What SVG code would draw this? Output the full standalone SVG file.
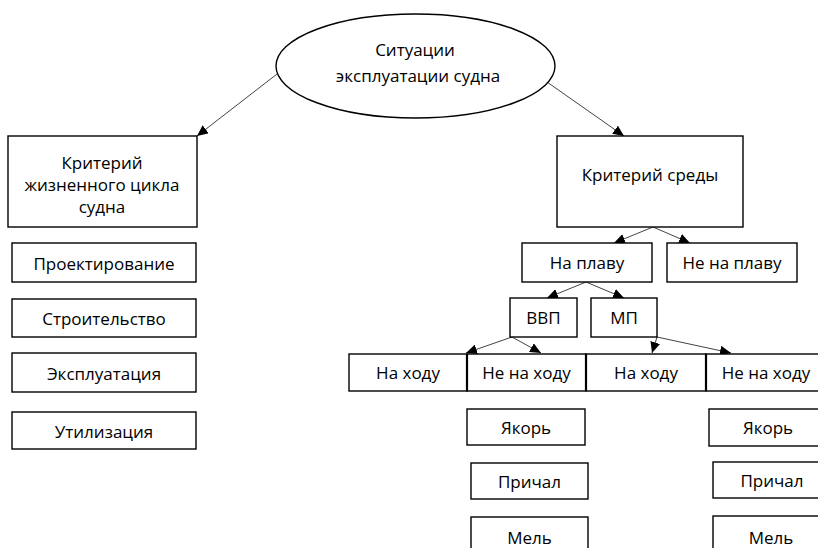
<svg xmlns="http://www.w3.org/2000/svg" width="818" height="548" viewBox="0 0 818 548">
<style>
.b{fill:#fff;stroke:#000;stroke-width:1.4}
.t{font-family:"Open Sans","Noto Sans","Liberation Sans",sans-serif;font-size:17px;fill:#000;text-anchor:middle}
.c{stroke:#444;stroke-width:1;fill:none;marker-end:url(#ah)}
.d{stroke:#000;stroke-width:2.2}
</style>
<defs>
<marker id="ah" markerUnits="userSpaceOnUse" markerWidth="12" markerHeight="10" refX="11" refY="5" orient="auto">
<path d="M0,0 L11,5 L0,10 Z" fill="#000"/>
</marker>
</defs>
<rect width="818" height="548" fill="#fff"/>
<g id="connectors">
<line class="c" x1="277" y1="74" x2="197" y2="136"/>
<line class="c" x1="547" y1="82" x2="624" y2="136"/>
<line class="c" x1="653" y1="227" x2="614" y2="243"/>
<line class="c" x1="653" y1="227" x2="690" y2="243"/>
<line class="c" x1="586" y1="282" x2="547" y2="298"/>
<line class="c" x1="586" y1="282" x2="624" y2="298"/>
<line class="c" x1="512" y1="337" x2="466" y2="353"/>
<line class="c" x1="512" y1="337" x2="541" y2="353"/>
<line class="c" x1="657" y1="337" x2="652" y2="353"/>
<line class="c" x1="657" y1="337" x2="731" y2="353"/>
</g>
<g id="root">
<ellipse class="b" cx="415.5" cy="66" rx="139.5" ry="52"/>
<text class="t" x="415" y="56">Ситуации</text>
<text class="t" x="418" y="82">эксплуатации судна</text>
</g>
<g id="lifecycle">
<rect class="b" x="8" y="136" width="189" height="91"/>
<text class="t" x="102" y="169">Критерий</text>
<text class="t" x="102" y="191">жизненного цикла</text>
<text class="t" x="102" y="213">судна</text>
</g>
<g id="design"><rect class="b" x="12" y="243" width="184" height="39"/><text class="t" x="104" y="270">Проектирование</text></g>
<g id="construction"><rect class="b" x="12" y="299" width="184" height="38"/><text class="t" x="104" y="325">Строительство</text></g>
<g id="operation"><rect class="b" x="12" y="353" width="184" height="39"/><text class="t" x="104" y="380">Эксплуатация</text></g>
<g id="disposal"><rect class="b" x="12" y="412" width="184" height="37"/><text class="t" x="104" y="438">Утилизация</text></g>
<g id="environment">
<rect class="b" x="557" y="136" width="186" height="91"/>
<text class="t" x="650" y="181">Критерий среды</text>
</g>
<g id="afloat"><rect class="b" x="522" y="243" width="130" height="39"/><text class="t" x="587" y="269">На плаву</text></g>
<g id="notafloat"><rect class="b" x="667" y="243" width="130" height="39"/><text class="t" x="732" y="269">Не на плаву</text></g>
<g id="vvp"><rect class="b" x="510" y="298" width="67" height="39"/><text class="t" x="543.5" y="324">ВВП</text></g>
<g id="mp"><rect class="b" x="591" y="298" width="66" height="39"/><text class="t" x="624" y="324">МП</text></g>
<g id="vvp-underway"><rect class="b" x="349" y="354" width="118" height="37"/><text class="t" x="408" y="379">На ходу</text></g>
<g id="vvp-notunderway"><rect class="b" x="467" y="354" width="119" height="37"/><text class="t" x="526.5" y="379">Не на ходу</text></g>
<g id="mp-underway"><rect class="b" x="586" y="354" width="120" height="37"/><text class="t" x="646" y="379">На ходу</text></g>
<g id="mp-notunderway"><rect class="b" x="706" y="354" width="120" height="37"/><text class="t" x="766" y="379">Не на ходу</text></g>
<g id="dividers"><line class="d" x1="467" y1="354" x2="467" y2="391"/><line class="d" x1="586" y1="354" x2="586" y2="391"/><line class="d" x1="706" y1="354" x2="706" y2="391"/></g>
<g id="anchor-l"><rect class="b" x="467" y="409" width="118" height="36"/><text class="t" x="526" y="434">Якорь</text></g>
<g id="berth-l"><rect class="b" x="471" y="463" width="117" height="36"/><text class="t" x="529.5" y="488">Причал</text></g>
<g id="shoal-l"><rect class="b" x="471" y="517" width="117" height="40"/><text class="t" x="529.5" y="544">Мель</text></g>
<g id="anchor-r"><rect class="b" x="709" y="409" width="118" height="37"/><text class="t" x="768" y="434">Якорь</text></g>
<g id="berth-r"><rect class="b" x="713" y="462" width="118" height="36"/><text class="t" x="772" y="487">Причал</text></g>
<g id="shoal-r"><rect class="b" x="713" y="516" width="118" height="40"/><text class="t" x="771" y="544">Мель</text></g>
</svg>
